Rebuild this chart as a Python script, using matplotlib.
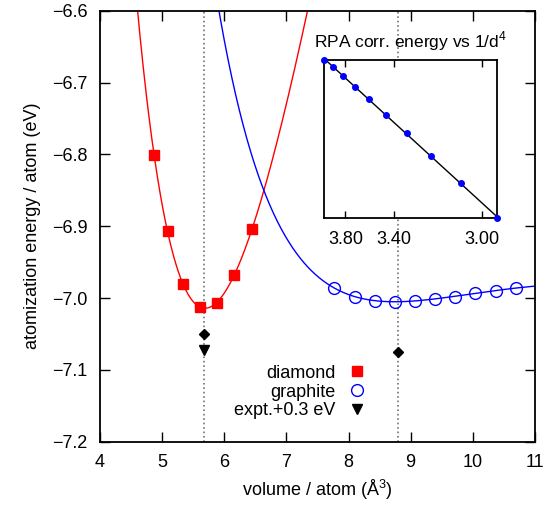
"""
Diamond vs graphite binding curves with RPA inset
"""

import numpy as np
import matplotlib
matplotlib.use("Agg")
import matplotlib.pyplot as plt

plt.rcParams['font.family'] = ['Liberation Sans', 'DejaVu Sans']
plt.rcParams['font.size'] = 13
plt.rcParams['mathtext.fontset'] = 'custom'
plt.rcParams['mathtext.rm'] = 'Liberation Sans'

# diamond data (volume / atom, energy / atom)
diamond_vol = [4.87, 5.09, 5.33, 5.61, 5.88, 6.15, 6.45]
diamond_e = [-6.801, -6.907, -6.980, -7.013, -7.007, -6.968, -6.904]

# graphite data
graphite_vol = [7.77, 8.10, 8.43, 8.75, 9.07, 9.39, 9.72, 10.04, 10.37, 10.69]
graphite_e = [-6.986, -6.998, -7.004, -7.005, -7.004, -7.001, -6.998, -6.993, -6.990, -6.986]

# experimental volumes and energies
expt_vol = [5.67, 8.79]
expt_e = [-7.050, -7.075]
expt_shift_vol = [5.67]
expt_shift_e = [-7.072]

# inset: interlayer distance d and RPA correlation energy (arb. units)
inset_d = [4.075, 3.95, 3.825, 3.70, 3.575, 3.45, 3.325, 3.20, 3.075, 2.95]
inset_e = [0.0, -7.6, -16.3, -27.3, -39.3, -55.3, -73.3, -96.0, -123.6, -158.6]
inset_ticks = [3.80, 3.40, 3.00]


def bm_fit(vol, e, vgrid):
    """Birch-Murnaghan style fit: cubic polynomial in V^(-2/3)"""
    x = np.asarray(vol) ** (-2.0 / 3.0)
    coef = np.polyfit(x, e, 3)
    return np.polyval(coef, vgrid ** (-2.0 / 3.0))


fig = plt.figure(figsize=(5.54, 5.08), dpi=100)
ax = fig.add_axes([0.1805, 0.1305, 0.785, 0.8485])

vgrid = np.linspace(4.0, 11.0, 800)

# vertical guides at the experimental volumes
for v in expt_vol:
    ax.axvline(v, color='0.45', linestyle=':', linewidth=1.2, zorder=1)

ax.plot(vgrid, bm_fit(diamond_vol, diamond_e, vgrid), color='red', linewidth=1.0, zorder=2)
ax.plot(vgrid, bm_fit(graphite_vol, graphite_e, vgrid), color='blue', linewidth=1.0, zorder=2)

ax.plot(diamond_vol, diamond_e, 's', color='red', markersize=7.5, linestyle='none',
        label='diamond', zorder=3)
ax.plot(graphite_vol, graphite_e, 'o', markerfacecolor='none', markeredgecolor='blue',
        markeredgewidth=1.0, markersize=8.5, linestyle='none', label='graphite', zorder=3)
ax.plot(expt_vol, expt_e, 'D', color='black', markersize=5.5, linestyle='none', zorder=3)
ax.plot(expt_shift_vol, expt_shift_e, 'v', color='black', markersize=6.5, linestyle='none',
        label='expt.+0.3 eV', zorder=3)

ax.set_xlim(4, 11)
ax.set_ylim(-7.2, -6.6)
ax.set_xticks(range(4, 12))
ax.set_yticks(np.arange(-7.2, -6.55, 0.1))
ax.yaxis.set_major_formatter(plt.FuncFormatter(lambda v, p: ('%.1f' % v).replace('-', '\u2212')))
ax.tick_params(direction='in', length=7, width=1, top=True, right=True, pad=9)
for s in ax.spines.values():
    s.set_linewidth(1.3)

ax.set_xlabel('volume / atom ($\\mathrm{\\AA}^3$)', labelpad=5)
ax.set_ylabel('atomization energy / atom (eV)', labelpad=8)

leg = ax.legend(loc='lower left', bbox_to_anchor=(0.292, 0.035), frameon=False,
                markerfirst=False, handletextpad=0.6, labelspacing=0.1,
                handlelength=1.2, borderaxespad=0)
for t in leg.get_texts():
    t.set_horizontalalignment('right')

# inset: correlation energy vs 1/d^4
inv_d4 = 1.0 / np.asarray(inset_d) ** 4
axin = fig.add_axes([0.5854, 0.5701, 0.3123, 0.3122])
coef = np.polyfit(inv_d4, inset_e, 1)
xs = np.array([inv_d4.min(), inv_d4.max()])
axin.plot(xs, np.polyval(coef, xs), color='black', linewidth=1.0, zorder=2)
axin.plot(inv_d4, inset_e, 'o', color='blue', markersize=4, zorder=3, clip_on=False)
axin.set_xlim(inv_d4.min(), inv_d4.max())
axin.set_ylim(min(inset_e), max(inset_e))
axin.set_xticks(1.0 / np.asarray(inset_ticks) ** 4)
axin.set_xticklabels(['%.2f' % t for t in inset_ticks])
axin.set_yticks([])
axin.tick_params(direction='in', length=5, width=1, top=True, pad=9)
for s in axin.spines.values():
    s.set_linewidth(1.3)
axin.set_title('RPA corr. energy vs 1/d$^4$', fontsize=12.5, pad=9)

plt.savefig('out.png', dpi=100)
plt.close()
